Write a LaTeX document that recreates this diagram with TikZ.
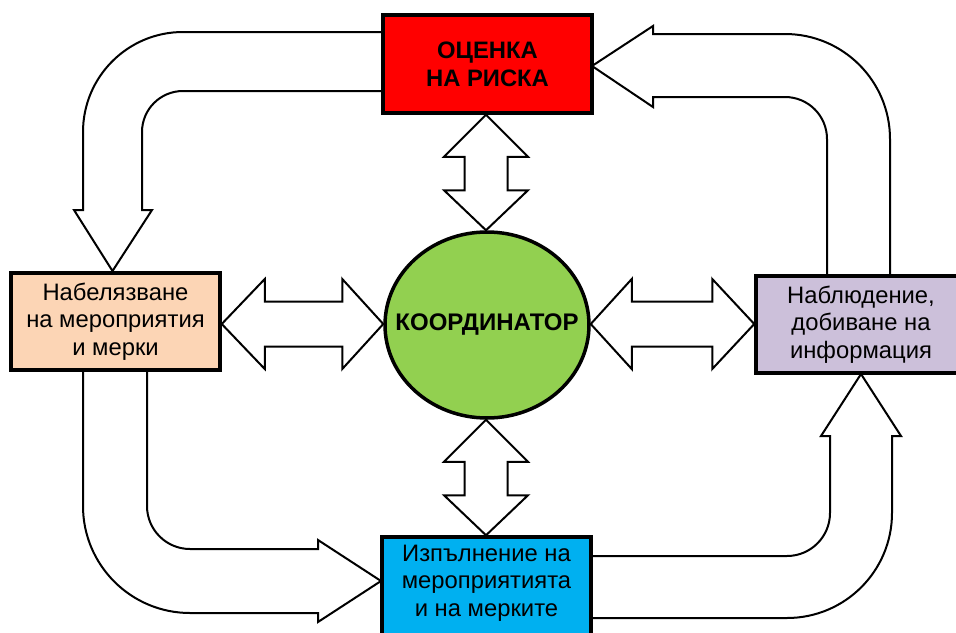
\documentclass[tikz,border=0pt]{standalone}
\usepackage{fontspec}
\setmainfont{Liberation Sans}
\usetikzlibrary{calc,shapes.geometric}
\definecolor{riskred}{HTML}{FF0000}
\definecolor{planpeach}{HTML}{FCD5B5}
\definecolor{monlilac}{HTML}{CCC0DA}
\definecolor{execblue}{HTML}{00B0F0}
\definecolor{coordgreen}{HTML}{92D050}
\tikzset{
  box/.style={draw=black, line width=3.5pt, rectangle, inner sep=0pt, align=center,
    font=\fontsize{23.8}{27.6}\selectfont},
  blk/.style={draw=black, fill=white, line width=2pt, line join=miter},
}
\begin{document}
\begin{tikzpicture}[x=1pt,y=1pt]
\path[use as bounding box, clip] (0,0) rectangle (956,-632);
\fill[white] (0,0) rectangle (956,-632);

% curved block arrows
\draw[blk] (383,-32) -- (183,-32) arc[start angle=90,end angle=180,radius=100]
  -- (83,-210) -- (74,-210) -- (112.5,-271) -- (152,-210) -- (142,-210) -- (142,-132)
  arc[start angle=180,end angle=90,radius=41] -- (383,-91) -- cycle;
\draw[blk] (592,-66) -- (653,-26) -- (653,-34) -- (785,-34)
  arc[start angle=90,end angle=0,radius=105] -- (890,-276) -- (827,-276) -- (827,-139)
  arc[start angle=0,end angle=90,radius=42] -- (653,-97) -- (653,-107) -- cycle;
\draw[blk] (83,-370) -- (83,-506) arc[start angle=180,end angle=270,radius=107]
  -- (318,-613) -- (318,-622) -- (381,-581) -- (318,-540) -- (318,-549) -- (190,-549)
  arc[start angle=270,end angle=180,radius=43] -- (147,-370) -- cycle;
\draw[blk] (591,-556) -- (787,-556) arc[start angle=270,end angle=360,radius=43]
  -- (830,-436) -- (821,-436) -- (861,-374) -- (901,-436) -- (892,-436) -- (892,-513)
  arc[start angle=0,end angle=-90,radius=105] -- (591,-618) -- cycle;

% nodes
\node[box, fill=riskred, minimum width=209pt, minimum height=98pt, font=\fontsize{23.8}{28}\selectfont\bfseries]
  (risk) at (487.5,-64) {ОЦЕНКА\\НА РИСКА};
\node[box, fill=planpeach, minimum width=209pt, minimum height=97pt]
  (plan) at (115.5,-321.5) {Набелязване\\на мероприятия\\и мерки};
\node[box, fill=monlilac, minimum width=210pt, minimum height=97pt]
  (mon) at (861,-324.5) {Наблюдение,\\добиване на\\информация};
\node[box, fill=execblue, minimum width=209pt, minimum height=104pt]
  (exec) at (486.5,-589) {};
\node[align=center, inner sep=0pt, font=\fontsize{23.8}{27.6}\selectfont] (exectext) at (486.5,-583)
  {Изпълнение на\\мероприятията\\и на мерките};
\node[draw=black, line width=3.5pt, ellipse, fill=coordgreen, minimum width=204pt, minimum height=186pt,
  inner sep=0pt] (coord) at (487,-325) {};
\node[inner sep=0pt, font=\fontsize{24}{28}\selectfont\bfseries] (coordtext) at (coord.center) {КООРДИНАТОР};

% straight double block arrows
\draw[blk] let \p1=(risk.south), \p2=(coord.north) in
  (486,\y1) -- (528,\y1-42) -- (507.5,\y1-42) -- (507.5,\y2+40) -- (528,\y2+40) -- (486,\y2)
  -- (444,\y2+40) -- (464.5,\y2+40) -- (464.5,\y1-42) -- (444,\y1-42) -- cycle;
\draw[blk] let \p1=(coord.south), \p2=(exec.north) in
  (486,\y1) -- (528,\y1-42) -- (507.5,\y1-42) -- (507.5,\y2+40) -- (528,\y2+40) -- (486,\y2)
  -- (444,\y2+40) -- (464.5,\y2+40) -- (464.5,\y1-42) -- (444,\y1-42) -- cycle;
\draw[blk] let \p1=(plan.east), \p2=(coord.west) in
  (\x1,-324) -- (\x1+43,-279) -- (\x1+43,-301.5) -- (\x2-41,-301.5) -- (\x2-41,-279) -- (\x2,-324)
  -- (\x2-41,-369) -- (\x2-41,-346.5) -- (\x1+43,-346.5) -- (\x1+43,-369) -- cycle;
\draw[blk] let \p1=(coord.east), \p2=(mon.west) in
  (\x1,-324) -- (\x1+41,-279) -- (\x1+41,-301.5) -- (\x2-42,-301.5) -- (\x2-42,-279) -- (\x2,-324)
  -- (\x2-42,-369) -- (\x2-42,-346.5) -- (\x1+41,-346.5) -- (\x1+41,-369) -- cycle;
\end{tikzpicture}
\end{document}
